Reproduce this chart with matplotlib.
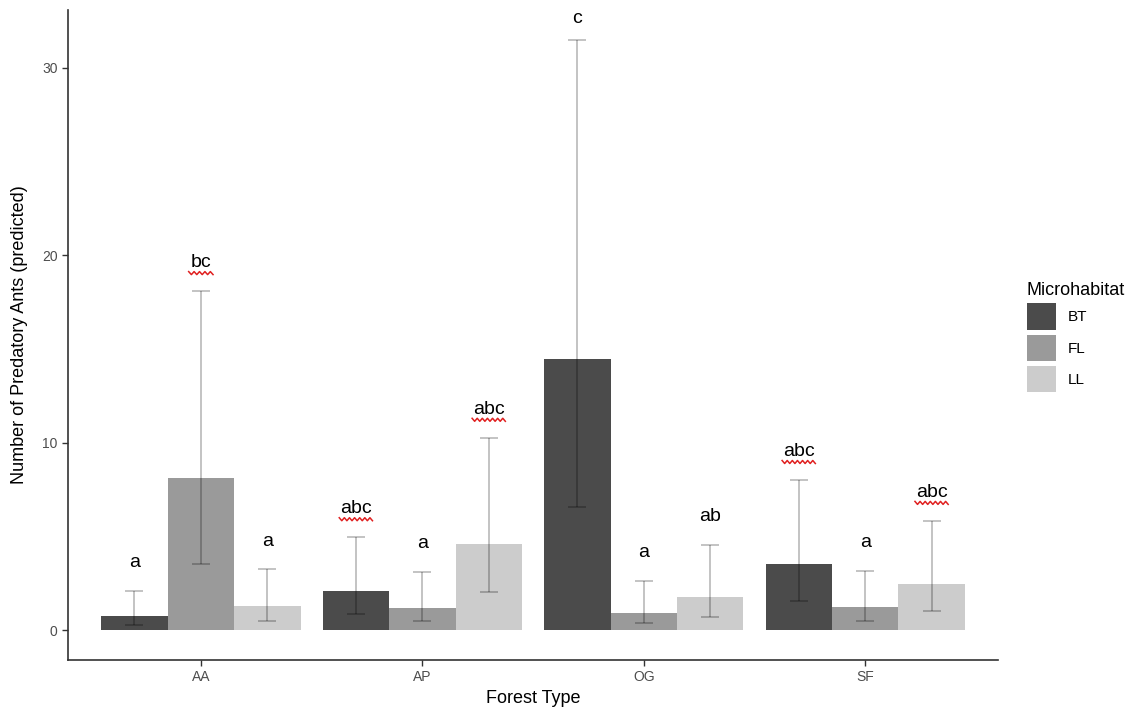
import matplotlib
matplotlib.use("Agg")
import matplotlib.pyplot as plt
import numpy as np
from matplotlib.patches import Patch

plt.rcParams['font.family'] = ['Liberation Sans', 'DejaVu Sans']

forest_types = ["AA", "AP", "OG", "SF"]
microhabitats = ["BT", "FL", "LL"]

means = {
    "BT": [0.78, 2.11, 14.45, 3.53],
    "FL": [8.12, 1.20, 0.93, 1.26],
    "LL": [1.28, 4.59, 1.80, 2.46],
}
upper = {
    "BT": [2.10, 4.98, 31.50, 8.03],
    "FL": [18.10, 3.12, 2.64, 3.18],
    "LL": [3.26, 10.28, 4.56, 5.85],
}
lower = {
    "BT": [0.28, 0.90, 6.60, 1.56],
    "FL": [3.56, 0.52, 0.39, 0.52],
    "LL": [0.50, 2.06, 0.71, 1.05],
}
letters = {
    "BT": ["a", "abc", "c", "abc"],
    "FL": ["bc", "a", "a", "a"],
    "LL": ["a", "abc", "ab", "abc"],
}
colors = {"BT": "#4b4b4b", "FL": "#9a9a9a", "LL": "#cccccc"}

W, H = 1138, 712
fig = plt.figure(figsize=(W / 100, H / 100), dpi=100)
ax = fig.add_axes([68 / W, (H - 660) / H, (998 - 68) / W, (660 - 10) / H])

x = np.arange(len(forest_types))
group_w = 0.9
bw = group_w / 3
label_off = 1.5

for i, m in enumerate(microhabitats):
    xs = x - group_w / 2 + bw * (i + 0.5)
    mv = np.array(means[m])
    up = np.array(upper[m])
    lo = np.array(lower[m])
    ax.bar(xs, mv, width=bw, color=colors[m], edgecolor='none', zorder=2)
    ax.errorbar(xs, mv, yerr=[mv - lo, up - mv], fmt='none', ecolor='black',
                alpha=0.3, elinewidth=1.1, capsize=6.5, capthick=1.1, zorder=3)
    for xx, u, lab in zip(xs, up, letters[m]):
        ly = min(u + label_off, 32.6)
        ax.text(xx, ly, lab, ha='center', va='center', fontsize=14,
                color='black', clip_on=False, zorder=4)
        if lab in ("bc", "abc"):
            # red wavy spell-check underline
            n = 14 if lab == "abc" else 10
            half = 0.075 if lab == "abc" else 0.055
            wx = np.linspace(xx - half, xx + half, n)
            wy = (ly - 0.55) + np.where(np.arange(n) % 2 == 0, 0.08, -0.08)
            ax.plot(wx, wy, color='#e02020', lw=1.1, zorder=4, clip_on=False)

ax.set_xlim(-0.6, 3.6)
ax.set_ylim(-1.575, 33.075)
ax.set_xticks(x)
ax.set_xticklabels(forest_types)
ax.set_yticks([0, 10, 20, 30])

for s in ["top", "right"]:
    ax.spines[s].set_visible(False)
for s in ["left", "bottom"]:
    ax.spines[s].set_color("#333333")
    ax.spines[s].set_linewidth(1.2)
ax.tick_params(axis='both', colors='#333333', labelcolor='#4d4d4d',
               labelsize=10, length=4, width=1)

ax.set_xlabel("Forest Type", fontsize=13, labelpad=4)
ax.set_ylabel("Number of Predatory Ants (predicted)", fontsize=13, labelpad=10)

handles = [Patch(facecolor=colors[m], edgecolor='none', label=m) for m in microhabitats]
leg = fig.legend(handles=handles, title="Microhabitat", loc='upper left',
                 bbox_to_anchor=(1013 / W, 1 - 268 / H), frameon=False,
                 fontsize=11, title_fontsize=13, handlelength=1.9, handleheight=2.3,
                 labelspacing=0.3, handletextpad=0.8, alignment='left')

fig.savefig("out.png", dpi=100, facecolor='white')
